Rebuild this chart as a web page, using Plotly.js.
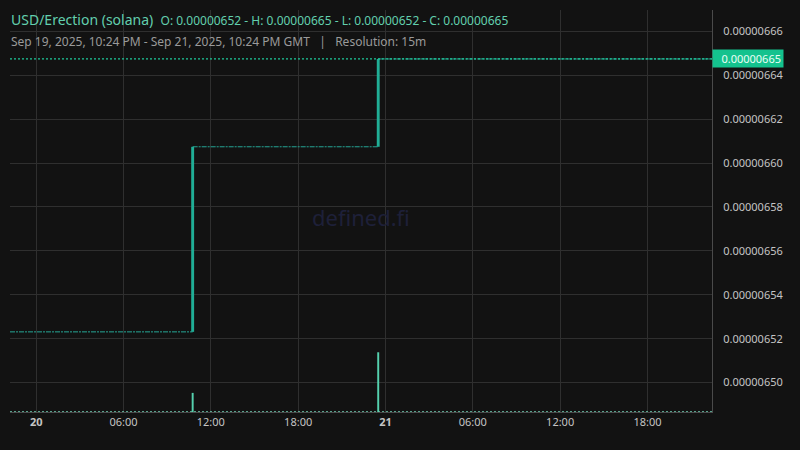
<!DOCTYPE html>
<html>
<head>
<meta charset="utf-8">
<script src="https://cdn.plot.ly/plotly-3.0.1.min.js"></script>
<style>
html,body{margin:0;padding:0;background:#121212;}
#chart{width:800px;height:450px;}
</style>
</head>
<body>
<div id="chart"></div>
<script>
// ---- data ----
const pairTitle = 'USD/Erection (solana)';
const ohlcText = 'O: 0.00000652 - H: 0.00000665 - L: 0.00000652 - C: 0.00000665';
const subTitle = 'Sep 19, 2025, 10:24 PM - Sep 21, 2025, 10:24 PM GMT   |   Resolution: 15m';

const viewStart = '2025-09-19 22:12';
const viewEnd = '2025-09-21 22:26';

// flat price levels (candles with open = close)
const levelStart = ['2025-09-19 22:12', '2025-09-20 10:45', '2025-09-20 23:30'];
const levelEnd   = ['2025-09-20 10:45', '2025-09-20 23:30', '2025-09-21 22:26'];
const levelPrice = [0.0000065231, 0.0000066074, 0.0000066474];

// the two up candles
const jumpTime  = ['2025-09-20 10:45', '2025-09-20 23:30'];
const jumpOpen  = [0.0000065231, 0.0000066074];
const jumpClose = [0.0000066074, 0.0000066474];

// volume
const volTime  = ['2025-09-20 10:45', '2025-09-20 23:30'];
const volValue = [32, 100];

const lastPrice = 0.0000066474;
const lastPriceLabel = '0.00000665';

const yTickVals = [0.0000065, 0.00000652, 0.00000654, 0.00000656, 0.00000658, 0.0000066, 0.00000662, 0.00000664, 0.00000666];
const xTickVals = ['2025-09-20 00:00', '2025-09-20 06:00', '2025-09-20 12:00', '2025-09-20 18:00', '2025-09-21 00:00', '2025-09-21 06:00', '2025-09-21 12:00', '2025-09-21 18:00'];
const xTickText = ['<b>20</b>', '06:00', '12:00', '18:00', '<b>21</b>', '06:00', '12:00', '18:00'];

// ---- build traces ----
const lvX = [], lvY = [];
for (let i = 0; i < levelPrice.length; i++) {
  lvX.push(levelStart[i], levelEnd[i], null);
  lvY.push(levelPrice[i], levelPrice[i], null);
}

const traces = [
  {
    type: 'scatter', mode: 'lines', x: [viewStart, viewEnd], y: [0, 0], yaxis: 'y2',
    line: {color: '#6fcfb4', width: 1.5, dash: '2px,2px'}, hoverinfo: 'skip'
  },
  {
    type: 'bar', x: volTime, y: volValue, yaxis: 'y2', width: 480000,
    marker: {color: '#55d1ae', line: {width: 0}}, hoverinfo: 'skip'
  },
  {
    type: 'scatter', mode: 'lines', x: lvX, y: lvY,
    line: {color: '#26a695', width: 1, dash: '5px,1px,2px,1px'}, hoverinfo: 'skip'
  },
  {
    type: 'scatter', mode: 'lines', x: [viewStart, viewEnd], y: [lastPrice, lastPrice],
    line: {color: '#1ec99a', width: 1.2, dash: '2px,2px'}, hoverinfo: 'skip'
  },
  {
    type: 'bar', x: jumpTime, base: jumpOpen,
    y: jumpClose.map((c, i) => c - jumpOpen[i]), width: 720000,
    marker: {color: '#20ae96', line: {width: 0}}, hoverinfo: 'skip'
  }
];

const layout = {
  width: 800, height: 450,
  paper_bgcolor: '#121212', plot_bgcolor: '#121212',
  margin: {l: 10, r: 88, t: 10, b: 38},
  showlegend: false,
  barmode: 'overlay',
  font: {family: 'Noto Sans, Open Sans, sans-serif', color: '#c4c4c4', size: 11},
  xaxis: {
    type: 'date', range: [viewStart, viewEnd],
    tickvals: xTickVals, ticktext: xTickText,
    showgrid: true, gridcolor: '#2f2f2f', gridwidth: 1,
    showline: true, linecolor: '#4a4a4a', linewidth: 1,
    ticks: '', zeroline: false,
    tickfont: {size: 11, color: '#c4c4c4'}
  },
  yaxis: {
    side: 'right', range: [0.0000064866, 0.0000066697],
    tickvals: yTickVals, tickformat: '.8f',
    showgrid: true, gridcolor: '#2f2f2f', gridwidth: 1,
    showline: true, linecolor: '#4a4a4a', linewidth: 1,
    ticks: 'outside', ticklen: 8, tickcolor: 'rgba(0,0,0,0)',
    zeroline: false, tickfont: {size: 11, color: '#c4c4c4'}
  },
  yaxis2: {
    overlaying: 'y', side: 'left', range: [0, 673],
    visible: false, showgrid: false, zeroline: false
  },
  annotations: [
    {
      xref: 'paper', yref: 'paper', x: 0.5, y: 0.485, text: 'defined.fi', showarrow: false,
      font: {size: 22, color: '#1e2039'}
    },
    {
      xref: 'paper', yref: 'paper', x: -0.002, y: 1.0, yanchor: 'middle', xanchor: 'left',
      yshift: -9, showarrow: false,
      text: '<span style="font-size:14px">' + pairTitle + '</span>  <span style="font-size:12px">' + ohlcText + '</span>',
      font: {size: 14, color: '#62cfae'}
    },
    {
      xref: 'paper', yref: 'paper', x: -0.002, y: 1.0, yanchor: 'middle', xanchor: 'left',
      yshift: -31, showarrow: false, text: subTitle,
      font: {size: 12, color: '#9a9a9a'}
    },
    {
      xref: 'paper', yref: 'y', x: 1, y: lastPrice, xanchor: 'left', yanchor: 'middle',
      showarrow: false, text: lastPriceLabel, bgcolor: '#14c28e',
      width: 66, height: 13, align: 'right', borderpad: 2, xshift: 0,
      font: {size: 11, color: '#eafff6'}
    }
  ]
};

Plotly.newPlot('chart', traces, layout, {staticPlot: true, displayModeBar: false});
</script>
</body>
</html>
